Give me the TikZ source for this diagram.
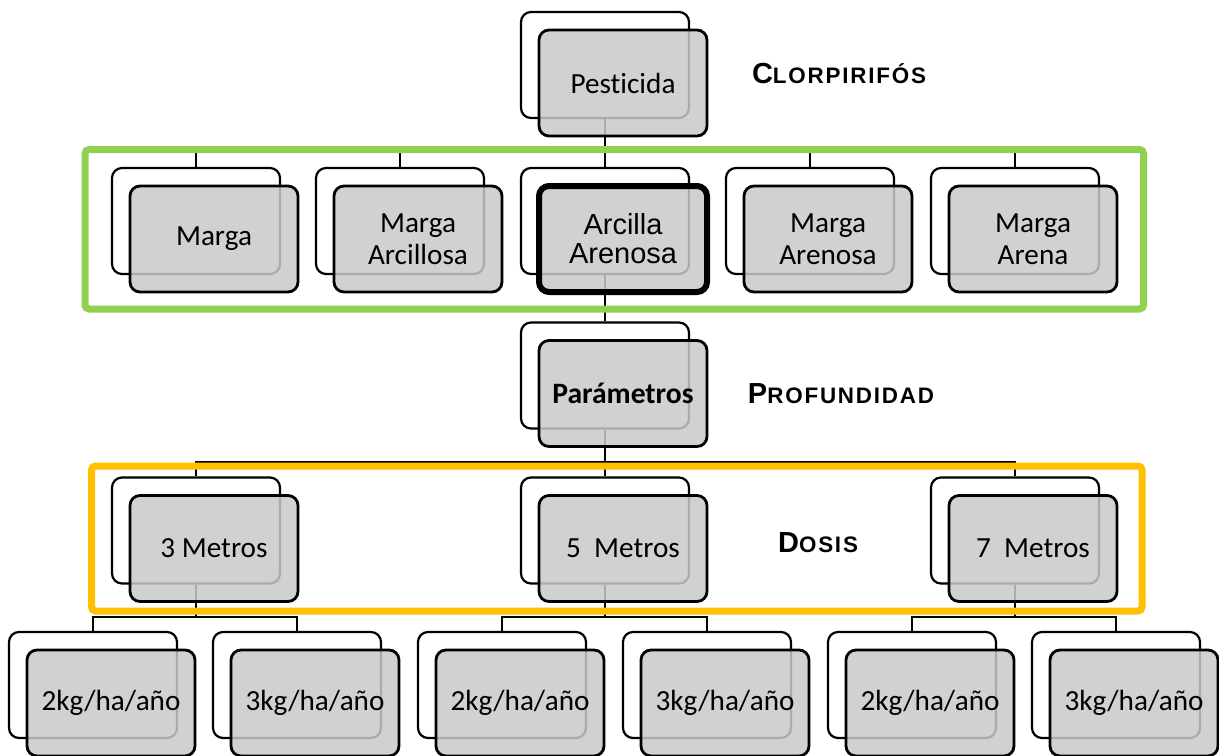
\documentclass[tikz,border=0pt]{standalone}
\usepackage{fontspec}
\setmainfont{Carlito}[Ligatures=NoCommon]
\newfontfamily\arialfont{Liberation Sans}
\usepackage{tikz}
\usetikzlibrary{calc, backgrounds}
\definecolor{framegreen}{HTML}{92D050}
\definecolor{frameorange}{HTML}{FFC000}
\newcommand{\fakesc}[2]{{\fontsize{14.5pt}{14pt}\selectfont #1}{\fontsize{11.2pt}{11pt}\selectfont\addfontfeature{LetterSpace=8}#2}}
\tikzset{ back/.style = {draw, line width=1.1pt, rounded corners=5pt, fill=white, minimum width=84pt, minimum height=53pt},
  front/.style = {draw, line width=1.4pt, rounded corners=5pt, fill=black!21, fill opacity=0.85, text opacity=1, minimum width=84pt, minimum height=53pt, align=center, font=\fontsize{14.6pt}{16pt}\selectfont},
  conn/.style = {line width=1.1pt},
  frame/.style = {line width=3.5pt, rounded corners=2pt},
  tag/.style = {font=\arialfont\bfseries, anchor=base} }

\begin{document}
\begin{tikzpicture}[x=0.5pt, y=-0.5pt]
  \useasboundingbox (0,0) rectangle (1219,755);
  \clip (0,0) rectangle (1219,755);

  % top
  \node[back] (pestbk) at (605,65) {};
  \node[front] (pest) at ([shift={(18,18)}]pestbk) {Pesticida};
  \node[tag] (clor) at (839,83) {\fakesc{C}{LORPIRIFÓS}};

  % soils
  \node[back] (margabk) at (196,221) {};
  \node[front] (marga) at ([shift={(18,18)}]margabk) {Marga};
  \node[back] (arcillbk) at (400,221) {};
  \node[front] (arcill) at ([shift={(18,18)}]arcillbk) {Marga\\Arcillosa};
  \node[back] (arenbk) at (605,221) {};
  \node[front, line width=3pt, font=\arialfont\fontsize{14.5pt}{14.5pt}\selectfont] (aren) at ([shift={(18,18)}]arenbk) {Arcilla\\Arenosa};
  \node[back] (mareabk) at (810,221) {};
  \node[front] (marea) at ([shift={(18,18)}]mareabk) {Marga\\Arenosa};
  \node[back] (arenabk) at (1015,221) {};
  \node[front] (arena) at ([shift={(18,18)}]arenabk) {Marga\\Arena};

  % parameters
  \node[back] (parambk) at (605,375.5) {};
  \node[front, font=\bfseries\fontsize{14.8pt}{16pt}\selectfont] (param) at ([shift={(18,18)}]parambk) {Parámetros};
  \node[tag] (prof) at (841,403) {\fakesc{P}{ROFUNDIDAD}};

  % depths
  \node[back] (tresbk) at (196,530.5) {};
  \node[front] (tres) at ([shift={(18,18)}]tresbk) {3 Metros};
  \node[back] (cincobk) at (605,530.5) {};
  \node[front] (cinco) at ([shift={(18,18)}]cincobk) {5\ \ Metros};
  \node[back] (sietebk) at (1015,530.5) {};
  \node[front] (siete) at ([shift={(18,18)}]sietebk) {7\ \ Metros};
  \node[tag] (dosis) at (818,552) {\fakesc{D}{OSIS}};

  % doses
  \node[back] (tdosbk) at (93,685) {};
  \node[front] (tdos) at ([shift={(18,18)}]tdosbk) {2kg/ha/año};
  \node[back] (ttresbk) at (297,685) {};
  \node[front] (ttres) at ([shift={(18,18)}]ttresbk) {3kg/ha/año};
  \node[back] (cdosbk) at (502,685) {};
  \node[front] (cdos) at ([shift={(18,18)}]cdosbk) {2kg/ha/año};
  \node[back] (ctresbk) at (707,685) {};
  \node[front] (ctres) at ([shift={(18,18)}]ctresbk) {3kg/ha/año};
  \node[back] (sdosbk) at (912,685) {};
  \node[front] (sdos) at ([shift={(18,18)}]sdosbk) {2kg/ha/año};
  \node[back] (stresbk) at (1116,685) {};
  \node[front] (stres) at ([shift={(18,18)}]stresbk) {3kg/ha/año};

  \begin{scope}[on background layer]
    \coordinate (busa) at (605,150);
    \coordinate (busb) at (605,462);
    \coordinate (busc) at (196,617);
    \coordinate (busd) at (605,617);
    \coordinate (buse) at (1015,617);
    \draw[conn] (pestbk.south) -- (busa) (margabk.north) |- (busa) (arcillbk.north) |- (busa)
      (arenbk.north) -- (busa) (mareabk.north) |- (busa) (arenabk.north) |- (busa);
    \draw[conn] (arenbk.south) -- (parambk.north);
    \draw[conn] (parambk.south) -- (busb) (tresbk.north) |- (busb) (cincobk.north) -- (busb) (sietebk.north) |- (busb);
    \draw[conn] (tresbk.south) -- (busc) (tdosbk.north) |- (busc) (ttresbk.north) |- (busc);
    \draw[conn] (cincobk.south) -- (busd) (cdosbk.north) |- (busd) (ctresbk.north) |- (busd);
    \draw[conn] (sietebk.south) -- (buse) (sdosbk.north) |- (buse) (stresbk.north) |- (buse);
  \end{scope}

  \draw[frame, framegreen] (85,149.5) rectangle (1143.5,309);
  \draw[frame, frameorange] (91.5,466) rectangle (1142,611);
\end{tikzpicture}
\end{document}
